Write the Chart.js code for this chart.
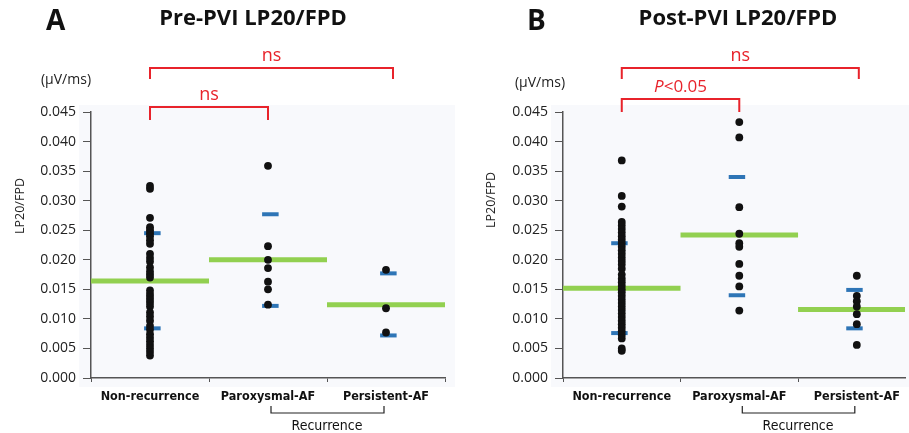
<!DOCTYPE html>
<html>
<head>
<meta charset="utf-8">
<script src="https://cdn.jsdelivr.net/npm/chart.js@4.4.1/dist/chart.umd.min.js"></script>
<style>
  html, body { margin: 0; padding: 0; background: #fff; overflow: hidden; }
  #wrap { position: relative; width: 909px; height: 433px; }
  canvas { position: absolute; top: 0; }
</style>
</head>
<body>
<div id="wrap">
  <canvas id="pre" width="455" height="433" style="left:0"></canvas>
  <canvas id="post" width="454" height="433" style="left:455px"></canvas>
</div>
<script>
// categories + y ticks
const categories = ['Non-recurrence', 'Paroxysmal-AF', 'Persistent-AF'];
const yTicks = [0, 0.005, 0.010, 0.015, 0.020, 0.025, 0.030, 0.035, 0.040, 0.045];

// Pre-PVI individual values
const preNonRecurrence = [0.0325, 0.0320, 0.0271, 0.0255, 0.0250, 0.0245, 0.0240, 0.0233, 0.0227,
  0.0210, 0.0203, 0.0197, 0.0187, 0.0180, 0.0175, 0.0170, 0.0148, 0.0142, 0.0137, 0.0132,
  0.0127, 0.0121, 0.0111, 0.0104, 0.0097, 0.0088, 0.0082, 0.0074, 0.0068, 0.0062, 0.0056,
  0.0050, 0.0044, 0.0038];
const preParoxysmal = [0.0359, 0.0223, 0.0200, 0.0186, 0.0163, 0.0150, 0.0124];
const prePersistent = [0.0183, 0.0118, 0.0077];
const preMeans = [0.0164, 0.0200, 0.0124];
const preSdHigh = [0.0245, 0.0277, 0.0177];
const preSdLow = [0.0084, 0.0122, 0.0072];

// Post-PVI individual values
const postNonRecurrence = [0.0368, 0.0308, 0.0290, 0.0264, 0.0258, 0.0252, 0.0246, 0.0240, 0.0234,
  0.0228, 0.0222, 0.0216, 0.0210, 0.0204, 0.0198, 0.0192, 0.0185, 0.0175, 0.0168, 0.0162,
  0.0156, 0.0150, 0.0145, 0.0139, 0.0133, 0.0127, 0.0121, 0.0115, 0.0109, 0.0103, 0.0097,
  0.0091, 0.0085, 0.0079, 0.0073, 0.0067, 0.0050, 0.0046];
const postParoxysmal = [0.0433, 0.0407, 0.0289, 0.0244, 0.0228, 0.0222, 0.0193, 0.0173, 0.0155, 0.0114];
const postPersistent = [0.0173, 0.0139, 0.0130, 0.0121, 0.0108, 0.0091, 0.0056];
const postMeans = [0.0152, 0.0242, 0.0116];
const postSdHigh = [0.0228, 0.0340, 0.0149];
const postSdLow = [0.0076, 0.0140, 0.0084];

const RED = '#e8232b';
const GREEN = '#92d050';
const BLUE = '#2e75b6';
const AXIS = '#555';
const NARROW = "'Liberation Sans Narrow', 'DejaVu Sans Condensed', sans-serif";

function buildDatasets(groups, means, sdHigh, sdLow, blueShift) {
  const dots = [];
  groups.forEach((vals, i) => vals.forEach(v => dots.push({ x: i, y: v })));
  const sets = [{
    type: 'scatter', data: dots, backgroundColor: '#111', borderWidth: 0, pointRadius: 3.9
  }];
  means.forEach((m, i) => {
    sets.push({ type: 'line', data: [{ x: i - 0.5, y: m }, { x: i + 0.5, y: m }],
      borderColor: GREEN, borderWidth: 5, pointRadius: 0, borderCapStyle: 'butt' });
  });
  [sdHigh, sdLow].forEach(arr => arr.forEach((s, i) => {
    sets.push({ type: 'line', data: [{ x: i - 0.07 + blueShift, y: s }, { x: i + 0.07 + blueShift, y: s }],
      borderColor: BLUE, borderWidth: 4, pointRadius: 0, borderCapStyle: 'butt' });
  }));
  return sets;
}

function bracket(ctx, x1, x2, y, leg) {
  ctx.beginPath();
  ctx.moveTo(x1, y + leg);
  ctx.lineTo(x1, y);
  ctx.lineTo(x2, y);
  ctx.lineTo(x2, y + leg);
  ctx.stroke();
}

function makePanel(id, cfg) {
  const decor = {
    id: 'decor' + id,
    beforeDraw(chart) {
      const { ctx, chartArea } = chart;
      ctx.save();
      ctx.fillStyle = '#f8f9fc';
      ctx.fillRect(chartArea.left - 12, chartArea.top - 7, chart.width - chartArea.left + 12, chartArea.bottom - chartArea.top + 16);
      ctx.restore();
    },
    afterDraw(chart) {
      const { ctx } = chart;
      const x = chart.scales.x;
      const c0 = x.getPixelForValue(0), c1 = x.getPixelForValue(1), c2 = x.getPixelForValue(2);
      ctx.save();
      ctx.fillStyle = '#111';
      ctx.textBaseline = 'middle';
      ctx.textAlign = 'left';
      ctx.font = "bold 28px 'Open Sans', sans-serif";
      ctx.fillText(cfg.letter, cfg.letterX, 22);
      ctx.textAlign = 'center';
      ctx.font = "bold 22px 'Open Sans', sans-serif";
      ctx.fillText(cfg.title, cfg.titleX, 19);
      ctx.font = "14px 'Open Sans', sans-serif";
      ctx.fillStyle = '#222';
      ctx.fillText('(\u03bcV/ms)', cfg.unitX, cfg.unitY);

      // y axis title, placed higher than the axis centre as in the original
      ctx.save();
      ctx.translate(cfg.yTitleX, cfg.yTitleY);
      ctx.rotate(-Math.PI / 2);
      ctx.font = "12.5px 'Open Sans', sans-serif";
      ctx.fillText('LP20/FPD', 0, 0);
      ctx.restore();

      // significance brackets
      ctx.strokeStyle = RED;
      ctx.lineWidth = 2;
      ctx.fillStyle = RED;
      bracket(ctx, c0, c2 + cfg.topExtra, 68, 11);
      bracket(ctx, c0, c1, cfg.lowY, 13);
      ctx.font = "18px 'Open Sans', sans-serif";
      ctx.fillText('ns', (c0 + c2 + cfg.topExtra) / 2, 56);
      if (cfg.sig) {
        ctx.font = "italic 17px 'Open Sans', sans-serif";
        const w1 = ctx.measureText('P').width;
        ctx.font = "17px 'Open Sans', sans-serif";
        const w2 = ctx.measureText('<0.05').width;
        const sx = (c0 + c1) / 2 - (w1 + w2) / 2;
        ctx.textAlign = 'left';
        ctx.font = "italic 17px 'Open Sans', sans-serif";
        ctx.fillText('P', sx, cfg.lowY - 12);
        ctx.font = "17px 'Open Sans', sans-serif";
        ctx.fillText('<0.05', sx + w1, cfg.lowY - 12);
        ctx.textAlign = 'center';
      } else {
        ctx.fillText('ns', (c0 + c1) / 2, cfg.lowY - 12);
      }

      // Recurrence bracket
      ctx.strokeStyle = '#222';
      ctx.lineWidth = 1.2;
      ctx.beginPath();
      ctx.moveTo(c1 + 3, 406);
      ctx.lineTo(c1 + 3, 413);
      ctx.lineTo(c2 - 2, 413);
      ctx.lineTo(c2 - 2, 406);
      ctx.stroke();
      ctx.fillStyle = '#111';
      ctx.font = "14px " + NARROW;
      ctx.fillText('Recurrence', (c1 + c2) / 2, 426);
      ctx.restore();
    }
  };

  return new Chart(document.getElementById(id), {
    type: 'scatter',
    data: { datasets: buildDatasets(cfg.groups, cfg.means, cfg.sdHigh, cfg.sdLow, cfg.blueShift) },
    options: {
      responsive: false,
      animation: false,
      events: [],
      layout: { padding: { top: 112, right: cfg.rightPad, bottom: 0, left: 0 } },
      plugins: { legend: { display: false }, tooltip: { enabled: false } },
      scales: {
        x: {
          type: 'linear', min: -0.5, max: cfg.xMax,
          afterBuildTicks: s => {
            s.ticks = [-0.5, 0, 0.5, 1, 1.5, 2, 2.5].filter(v => v <= cfg.xMax).map(v => ({ value: v }));
          },
          afterFit: s => { s.height = 55; },
          ticks: {
            autoSkip: false, maxRotation: 0, padding: 7, color: '#111',
            font: { family: NARROW, size: 12.5, weight: 'bold' },
            callback: v => Number.isInteger(v) ? categories[v] : ''
          },
          grid: {
            drawOnChartArea: false, tickLength: 4,
            tickColor: c => Number.isInteger(c.tick.value) ? 'rgba(0,0,0,0)' : AXIS
          },
          border: { color: AXIS, width: 1.5 }
        },
        y: {
          min: 0, max: 0.045,
          afterBuildTicks: s => { s.ticks = yTicks.map(v => ({ value: v })); },
          afterFit: s => { s.width = cfg.yWidth; },
          ticks: {
            padding: 7, color: '#222',
            font: { family: "'Open Sans', sans-serif", size: 14 },
            callback: v => v.toFixed(3)
          },
          grid: { drawOnChartArea: false, tickLength: 8, tickColor: AXIS },
          border: { color: AXIS, width: 1.5 }
        }
      }
    },
    plugins: [decor]
  });
}

makePanel('pre', {
  groups: [preNonRecurrence, preParoxysmal, prePersistent],
  means: preMeans, sdHigh: preSdHigh, sdLow: preSdLow, blueShift: 0.02,
  letter: 'A', letterX: 46, title: 'Pre-PVI LP20/FPD', titleX: 253,
  unitX: 66, unitY: 80, topExtra: 7, lowY: 107, sig: false,
  xMax: 2.5, rightPad: 10, yWidth: 91, yTitleX: 20, yTitleY: 206
});

makePanel('post', {
  groups: [postNonRecurrence, postParoxysmal, postPersistent],
  means: postMeans, sdHigh: postSdHigh, sdLow: postSdLow, blueShift: -0.02,
  letter: 'B', letterX: 72, title: 'Post-PVI LP20/FPD', titleX: 283,
  unitX: 85, unitY: 83, topExtra: 2, lowY: 99, sig: true,
  xMax: 2.41, rightPad: 0, yWidth: 108, yTitleX: 36, yTitleY: 200
});
</script>
</body>
</html>
